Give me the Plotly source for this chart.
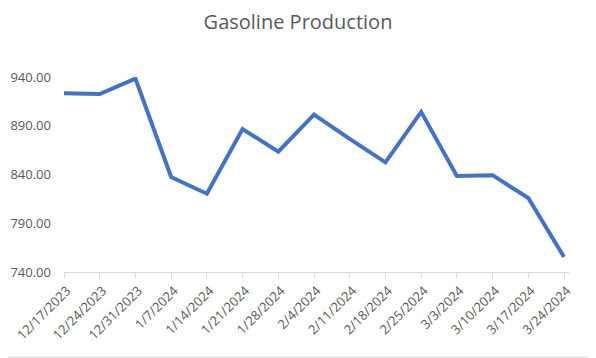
import plotly.graph_objects as go

dates = ["12/17/2023", "12/24/2023", "12/31/2023", "1/7/2024", "1/14/2024",
         "1/21/2024", "1/28/2024", "2/4/2024", "2/11/2024", "2/18/2024",
         "2/25/2024", "3/3/2024", "3/10/2024", "3/17/2024", "3/24/2024"]
production = [923.3, 922.5, 938.4, 837.5, 820.3,
              886.7, 863.4, 901.4, 876.5, 852.5,
              904.2, 838.5, 839.3, 815.9, 755.4]
y_ticks = [740, 790, 840, 890, 940]

# page body has an 8px margin in the browser; compensate
OFF = 8
W, H = 596, 358
ML, MR, MT, MB = 64 - OFF, 27 + OFF, 77 - OFF, 86 + OFF

fig = go.Figure(go.Scatter(
    x=list(range(len(dates))), y=production, mode="lines",
    line=dict(color="#4472C4", width=4), cliponaxis=False,
    hoverinfo="skip",
))

fig.update_layout(
    width=W, height=H,
    margin=dict(l=ML, r=MR, t=MT, b=MB, autoexpand=False),
    paper_bgcolor="white", plot_bgcolor="white",
    showlegend=False,
    title=dict(text="Gasoline Production", x=(298 - OFF) / W, xref="container",
               xanchor="center",
               yref="container", y=1 - (22 - OFF) / H, yanchor="middle",
               font=dict(family="Open Sans", size=20, color="#595959")),
    font=dict(family="Open Sans", color="#595959"),
    xaxis=dict(
        tickmode="array", tickvals=list(range(len(dates))), ticktext=dates,
        tickangle=-45, range=[0, 14.14], showgrid=False, zeroline=False,
        showline=True, linecolor="#D9D9D9", linewidth=1,
        ticks="outside", ticklen=5, tickcolor="#D9D9D9", automargin=False,
        ticklabelshift=3,
        tickfont=dict(family="Open Sans", size=13, color="#595959"),
    ),
    yaxis=dict(
        range=[740, 940], tickvals=y_ticks, tickformat=".2f",
        showgrid=False, zeroline=False, showline=False, ticks="",
        automargin=False, ticklabelstandoff=12,
        tickfont=dict(family="Open Sans", size=13, color="#595959"),
    ),
)

ph = H - MT - MB
fig.add_shape(type="line", xref="paper", yref="paper",
              x0=-1, x1=2,
              y0=-(357 - 272) / ph, y1=-(357 - 272) / ph,
              line=dict(color="#D9D9D9", width=1))

fig.write_html("out.html")
